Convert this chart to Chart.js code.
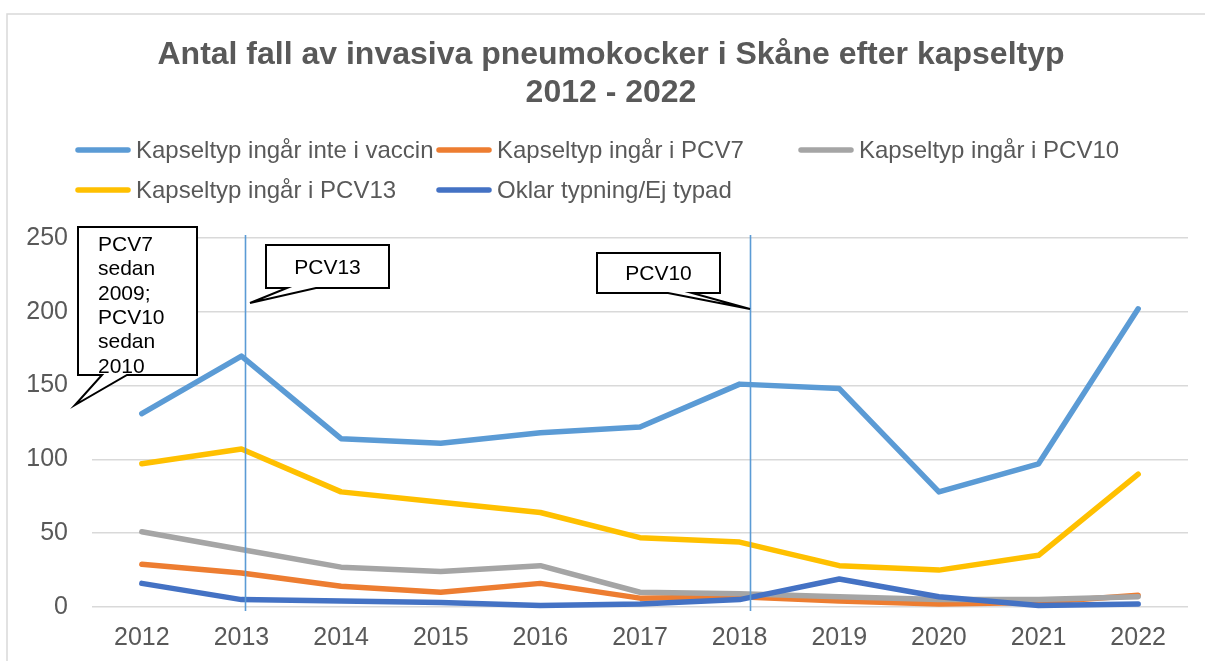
<!DOCTYPE html>
<html>
<head>
<meta charset="utf-8">
<script src="https://cdn.jsdelivr.net/npm/chart.js@4/dist/chart.umd.min.js"></script>
<style>
  html, body { margin: 0; padding: 0; background: #ffffff; }
  #wrap { width: 1205px; height: 661px; position: relative; }
</style>
</head>
<body>
<div id="wrap"><canvas id="c" width="1205" height="661"></canvas></div>
<script>
// ---- Data ----
const years = ['2012','2013','2014','2015','2016','2017','2018','2019','2020','2021','2022'];
const notInVaccine = [131, 170, 114, 111, 118, 122, 151, 148, 78, 97, 202];
const inPCV7       = [29, 23, 14, 10, 16, 6, 7, 4, 2, 3, 8];
const inPCV10      = [51, 39, 27, 24, 28, 10, 9, 7, 5, 5, 7];
const inPCV13      = [97, 107, 78, 71, 64, 47, 44, 28, 25, 35, 90];
const unclear      = [16, 5, 4, 3, 1, 2, 5, 19, 7, 1, 2];
const yTicks = [0, 50, 100, 150, 200, 250];
const seriesLabels = ['Kapseltyp ingår inte i vaccin', 'Kapseltyp ingår i PCV7', 'Kapseltyp ingår i PCV10', 'Kapseltyp ingår i PCV13', 'Oklar typning/Ej typad'];
const seriesColors = ['#5B9BD5', '#ED7D31', '#A5A5A5', '#FFC000', '#4472C4'];
const titleLines = ['Antal fall av invasiva pneumokocker i Skåne efter kapseltyp', '2012 - 2022'];
const callout1Lines = ['PCV7', 'sedan', '2009;', 'PCV10', 'sedan', '2010'];
const markerYears = ['2013', '2018'];

const FONT = '"Liberation Sans", Arial, sans-serif';
const GREY_TEXT = '#595959';

const seriesData = [notInVaccine, inPCV7, inPCV10, inPCV13, unclear];
const datasets = seriesData.map((d, i) => ({
  label: seriesLabels[i],
  data: d,
  borderColor: seriesColors[i],
  backgroundColor: seriesColors[i],
  borderWidth: 5.5,
  borderCapStyle: 'round',
  borderJoinStyle: 'round',
  pointRadius: 0,
  pointHoverRadius: 0,
  tension: 0,
  fill: false,
  clip: false,
  order: seriesData.length - i
}));

function drawCallout(ctx, box, notch, tip) {
  // box: [x1,y1,x2,y2]; notch: [xa,xb] on bottom edge; tip: [x,y]
  const [x1, y1, x2, y2] = box;
  ctx.save();
  ctx.beginPath();
  ctx.moveTo(x1, y1);
  ctx.lineTo(x2, y1);
  ctx.lineTo(x2, y2);
  ctx.lineTo(notch[1], y2);
  ctx.lineTo(tip[0], tip[1]);
  ctx.lineTo(notch[0], y2);
  ctx.lineTo(x1, y2);
  ctx.closePath();
  ctx.fillStyle = '#ffffff';
  ctx.fill();
  ctx.lineWidth = 2;
  ctx.strokeStyle = '#000000';
  ctx.lineJoin = 'miter';
  ctx.stroke();
  ctx.restore();
}

const decorPlugin = {
  id: 'decor',
  beforeDraw(chart) {
    const ctx = chart.ctx;
    ctx.save();
    ctx.fillStyle = '#ffffff';
    ctx.fillRect(0, 0, chart.width, chart.height);
    // outer frame
    ctx.strokeStyle = '#D9D9D9';
    ctx.lineWidth = 1.5;
    ctx.strokeRect(7, 14, 1400, 900);
    // title
    ctx.fillStyle = GREY_TEXT;
    ctx.font = 'bold 32px ' + FONT;
    ctx.textAlign = 'center';
    ctx.textBaseline = 'alphabetic';
    ctx.fillText(titleLines[0], 611, 64);
    ctx.fillText(titleLines[1], 611, 102);
    // legend (column layout)
    const cols = [136, 497, 859];
    const rows = [150, 190];
    ctx.font = '24px ' + FONT;
    ctx.textAlign = 'left';
    ctx.textBaseline = 'middle';
    chart.data.datasets.forEach((ds, i) => {
      const col = i < 3 ? cols[i] : cols[i - 3];
      const row = i < 3 ? rows[0] : rows[1];
      ctx.strokeStyle = ds.borderColor;
      ctx.lineWidth = 5.5;
      ctx.lineCap = 'round';
      ctx.beginPath();
      ctx.moveTo(col - 58, row);
      ctx.lineTo(col - 8, row);
      ctx.stroke();
      ctx.fillStyle = GREY_TEXT;
      ctx.fillText(ds.label, col, row + 1);
    });
    ctx.restore();
  },
  afterDatasetsDraw(chart) {
    const ctx = chart.ctx;
    const xs = chart.scales.x;
    const area = chart.chartArea;
    const offsets = [0.04, 0.1];
    ctx.save();
    ctx.strokeStyle = '#5B9BD5';
    ctx.lineWidth = 1.6;
    markerYears.forEach((yr, k) => {
      const idx = years.indexOf(yr);
      const x = Math.round(xs.getPixelForValue(idx) + offsets[k] * (xs.getPixelForValue(1) - xs.getPixelForValue(0))) + 0.5;
      ctx.beginPath();
      ctx.moveTo(x, area.top - 3);
      ctx.lineTo(x, area.bottom + 4);
      ctx.stroke();
    });
    ctx.restore();
  },
  afterDraw(chart) {
    const ctx = chart.ctx;
    // callout 1
    drawCallout(ctx, [78, 227, 197, 375], [102, 127], [75, 405]);
    ctx.save();
    ctx.fillStyle = '#000000';
    ctx.font = '21px ' + FONT;
    ctx.textAlign = 'left';
    ctx.textBaseline = 'middle';
    callout1Lines.forEach((t, i) => ctx.fillText(t, 98, 245 + i * 24.4));
    ctx.restore();
    // PCV13 callout
    drawCallout(ctx, [266, 245, 389, 288], [287, 316], [250, 303]);
    // PCV10 callout
    drawCallout(ctx, [597, 253, 720, 293], [668, 692], [750, 309]);
    ctx.save();
    ctx.fillStyle = '#000000';
    ctx.font = '21px ' + FONT;
    ctx.textAlign = 'center';
    ctx.textBaseline = 'middle';
    ctx.fillText('PCV13', 327.5, 268);
    ctx.fillText('PCV10', 658.5, 274);
    ctx.restore();
  }
};

new Chart(document.getElementById('c'), {
  type: 'line',
  data: { labels: years, datasets },
  options: {
    responsive: false,
    devicePixelRatio: 1,
    animation: false,
    events: [],
    layout: { padding: { top: 238, right: 17, bottom: 9, left: 0 } },
    plugins: {
      legend: { display: false },
      title: { display: false },
      tooltip: { enabled: false }
    },
    scales: {
      x: {
        type: 'category',
        offset: true,
        grid: { display: false, drawTicks: false },
        border: { display: false },
        ticks: {
          color: GREY_TEXT,
          font: { family: FONT, size: 25 },
          padding: 16,
          maxRotation: 0,
          autoSkip: false
        },
        afterFit(s) { s.height = 45; }
      },
      y: {
        min: 0,
        max: 250,
        afterBuildTicks(s) { s.ticks = yTicks.map(v => ({ value: v })); },
        grid: { color: '#D9D9D9', lineWidth: 1.5, drawTicks: false },
        border: { display: false },
        ticks: {
          color: GREY_TEXT,
          font: { family: FONT, size: 25 },
          padding: 24
        },
        afterFit(s) { s.width = 92; }
      }
    }
  },
  plugins: [decorPlugin]
});
</script>
</body>
</html>
